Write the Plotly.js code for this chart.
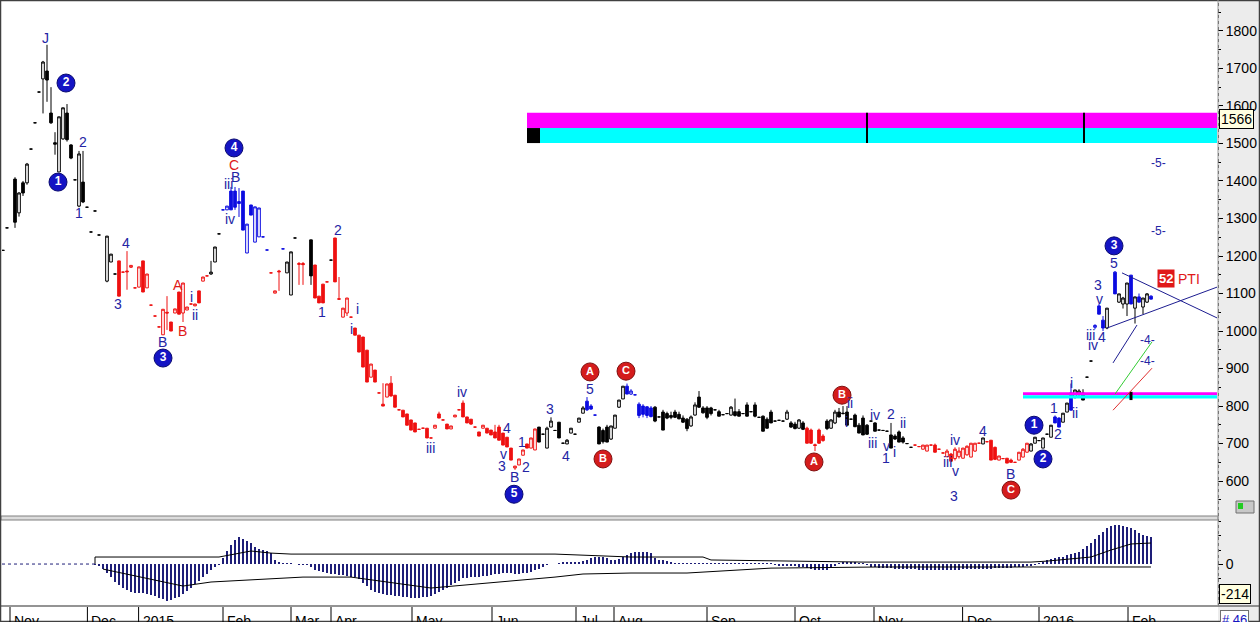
<!DOCTYPE html>
<html><head><meta charset="utf-8">
<script src="https://cdn.plot.ly/plotly-3.0.1.min.js"></script>
<style>html,body{margin:0;padding:0;background:#fff;overflow:hidden}#chart{width:1260px;height:622px}</style>
</head><body><div id="chart"></div>
<script>
// ---- price bars (one per trading day) ----
const barOpen = [1215,1275,null,1405,1315,1395,1395,1485,1555,1637,
 1672,1693,1581,1502,1424,1512,1581,1496,1403,1333,
 1397,1330,1264,1320,1256,null,1133,1184,1152,1187,
 1157,1160,1170,1115,1117,1187,1115,1069,1040,1011,
 990,1050,1024,1048,1104,1048,1056,1072,1067,1107,
 1133,1147,1152,1184,1259,1323,1323,1373,1373,1345,
 1373,1208,1336,1237,1251,1251,1216,1155,1101,1160,
 1219,1155,1096,1248,1180,1180,null,1243,1176,1093,
 1125,1131,1189,1248,1086,1037,1048,1037,1008,989,
 984,949,877,896,835,805,824,861,829,790,
 789,779,763,755,738,741,741,715,741,779,
 763,752,739,771,790,808,771,765,744,731,
 741,741,736,731,744,728,717,688,635,643,
 669,699,688,683,744,725,688,744,735,757,
 701,699,728,725,757,781,813,800,776,744,
 735,744,712,741,797,819,853,832,830,805,
 800,798,795,797,771,784,780,775,784,778,
 768,765,747,776,824,795,795,795,790,785,
 777,780,776,785,785,780,803,785,803,770,
 773,765,784,760,762,760,765,755,752,741,
 755,741,736,697,736,720,760,741,755,784,
 781,784,765,776,749,768,749,760,755,736,
 735,733,723,720,731,715,700,690,696,692,
 685,680,696,696,685,675,665,672,660,665,
 661,670,664,680,701,699,705,709,690,656,
 660,661,656,650,656,664,677,680,701,708,
 688,725,717,771,768,757,784,835,824,830,
 835,877,920,1010,1067,1029,1008,null,1157,1077,
 1072,1072,1149,1061,1091,1064,1077,1093];
const barHigh = [1215,1275,null,1410,1370,1400,1448,1485,1555,1637,
 1720,1763,1650,1530,1571,1595,1605,1498,1403,1480,
 1480,1330,1264,1320,1256,null,1253,1205,1152,1187,
 1157,1213,1175,1115,1171,1187,1152,1069,1040,1011,
 1058,1093,1024,1059,1104,1128,1064,1072,1072,1107,
 1144,1147,1187,1224,1259,1323,1333,1384,1384,1381,
 1373,1285,1336,1331,1328,1251,1216,1155,1107,1163,
 1219,1184,1211,1248,1184,1184,null,1243,1176,1093,
 1125,1131,1189,1248,1144,1061,1088,1037,1008,989,
 984,949,912,896,835,861,859,880,829,790,
 789,779,763,755,738,741,741,715,749,785,
 763,752,747,776,790,815,771,765,744,731,
 749,741,736,750,750,728,717,688,640,659,
 683,699,715,739,744,725,745,770,735,757,
 701,712,741,725,768,800,824,805,776,746,
 740,750,747,776,816,853,860,845,830,810,
 805,800,800,800,771,790,785,785,790,785,
 775,768,775,810,840,800,800,798,790,790,
 777,780,800,820,792,780,810,785,810,770,
 775,770,790,760,762,760,790,760,758,765,
 760,745,740,700,740,725,765,765,790,795,
 800,800,765,780,755,775,752,760,757,736,
 735,733,755,725,735,720,700,690,696,692,
 696,696,696,700,685,675,685,675,690,690,
 688,695,701,701,701,715,705,709,692,667,
 660,661,660,650,677,688,701,701,717,708,
 715,725,749,775,770,781,808,860,843,845,
 845,877,920,1018,1072,1040,1061,null,1160,1099,
 1091,1128,1149,1091,1100,1088,1101,1095];
const barLow = [1215,1275,null,1275,1305,1360,1390,1485,1555,1637,
 1580,1611,1552,1470,1424,1510,1505,1458,1403,1330,
 1341,1330,1264,1320,1256,null,1130,1184,1152,1093,
 1157,1110,1168,1115,1117,1104,1115,1069,1040,1011,
 990,1003,1000,1048,1045,1024,1056,1072,1067,1075,
 1133,1147,1150,1184,1259,1323,1323,1323,1323,1304,
 1269,1208,1309,1237,1251,1251,1216,1155,1101,1107,
 1219,1155,1096,1248,1123,1123,null,1123,1088,1075,
 1075,1131,1189,1131,1083,1037,1040,1037,989,944,
 904,864,877,864,835,800,824,825,797,790,
 771,749,736,731,738,741,715,715,741,768,
 763,739,739,771,790,771,755,750,744,720,
 741,728,723,715,709,696,691,656,630,643,
 669,688,688,683,704,725,688,744,735,715,
 701,699,728,725,757,781,787,790,776,699,
 700,704,710,741,795,819,832,830,830,768,
 770,768,770,757,771,736,765,765,768,765,
 755,733,745,775,795,780,765,775,790,773,
 777,780,775,772,773,780,773,785,770,770,
 733,740,755,760,762,760,763,742,738,740,
 736,701,700,680,700,705,736,740,752,770,
 778,749,765,744,728,723,723,760,733,736,
 735,733,688,710,704,700,700,690,696,692,
 685,680,696,677,685,675,665,653,655,660,
 661,668,664,678,701,699,705,656,656,656,
 660,648,650,650,656,664,677,680,701,708,
 688,725,717,755,744,757,784,789,820,828,
 816,877,920,1005,1045,1000,1005,null,1099,1075,
 1060,1040,1072,1020,1077,1045,1075,1085];
const barClose = [1215,1275,null,1290,1368,1368,1445,1485,1555,1637,
 1717,1669,1555,1498,1571,1595,1510,1461,1403,1472,
 1344,1330,1264,1320,1256,null,1253,1205,1152,1093,
 1157,1158,1175,1115,1171,1104,1152,1069,1040,1011,
 1058,1048,1000,1059,1045,1128,1064,1072,1072,1075,
 1144,1147,1157,1224,1259,1323,1333,1323,1330,1340,
 1269,1285,1309,1331,1328,1251,1216,1155,1107,1158,
 1219,1184,1211,1248,1178,1177,null,1147,1088,1075,
 1075,1131,1189,1131,1085,1061,1088,1037,989,944,
 904,864,912,864,835,800,859,827,797,790,
 771,749,736,731,738,741,715,715,749,768,
 763,739,747,776,790,771,755,752,744,720,
 749,728,723,715,709,696,691,656,640,659,
 683,688,715,739,704,725,741,760,735,715,
 701,709,741,725,768,795,790,792,776,699,
 705,704,747,776,816,853,832,840,830,775,
 778,775,772,760,771,736,768,770,770,766,
 757,740,771,803,797,782,770,780,790,773,
 777,780,797,775,773,780,773,785,773,770,
 733,741,755,760,762,760,784,744,740,763,
 738,701,701,695,701,708,740,763,784,771,
 780,749,765,745,728,723,725,760,733,736,
 735,733,688,712,704,704,700,690,696,692,
 696,696,696,677,685,675,680,653,685,680,
 688,693,701,701,701,715,705,656,658,667,
 660,648,650,650,677,685,701,699,717,708,
 715,725,749,755,744,781,808,789,843,840,
 816,877,920,1015,1045,1008,1061,null,1099,1099,
 1088,1128,1072,1091,1077,1088,1099,1085];
// colour class of each bar: k = black/white, r = red, b = blue, n = none
const barGroup = ("kknkkkkkkk"+"kkkkkkkkkk"+"kkkkknkkkr"+"rrrrrrrrrr"+"rrrrrrrrrr"+
 "rrkkkbbbbb"+"bbbbbbbrrr"+"bkkkrrnkrr"+"rrkrrrrrrr"+"rrrrrrrrrr"+
 "rrrrrrrrrr"+"rrrrrrrrrr"+"rrrrrrrrrr"+"rrrrkkkkkk"+"kkkkkkbbbk"+
 "kkkkkkbbbb"+"bbbkkkkkkk"+"kkkkkkkkkk"+"kkkkkkkkkk"+"kkkkkkkkkk"+
 "krrrrrkkkk"+"kkkkkkkkkk"+"kkkkkkkkrr"+"rrrrrrrrrr"+"rrrrrkrrrr"+
 "rrrrrrrkkk"+"kkkbbkkbkk"+"kkkbbbknbk"+"kkbkbkkb").split('');

// ---- oscillator (lower panel) ----
const oscHist = [null,null,null,null,null,null,null,null,null,null,
 null,null,null,null,null,null,null,null,null,null,
 null,null,null,-5,-14,-35,-64,-95,-125,-150,
 -170,-185,-200,-203,-205,-207,-212,-220,-228,-240,
 -252,-262,-255,-245,-235,-215,-192,-171,-145,-118,
 -93,-68,-43,-22,-7,43,90,135,171,192,
 180,164,150,125,110,100,90,80,29,14,
 7,5,7,3,-5,-7,-10,-20,-43,-50,
 -57,-64,-68,-72,-75,-78,-85,-90,-93,-110,
 -135,-160,-185,-200,-208,-215,-221,-224,-226,-228,
 -232,-236,-240,-242,-240,-238,-235,-225,-212,-200,
 -185,-168,-150,-135,-118,-100,-97,-95,-94,-93,
 -88,-83,-78,-74,-70,-67,-64,-66,-69,-71,
 -66,-62,-57,-45,-33,-21,-10,-3,0,7,
 14,12,14,15,14,20,29,40,50,52,
 50,40,29,32,36,50,64,80,86,88,
 86,84,80,40,32,29,25,14,7,8,
 6,9,7,5,8,7,6,9,8,7,
 10,6,7,8,5,7,9,6,8,7,
 5,6,4,-10,-12,-14,-15,-14,-16,-18,
 -20,-30,-38,-43,-45,-43,-40,-30,-15,10,
 14,16,14,12,8,4,-10,-18,-22,-25,
 -28,-30,-30,-32,-33,-35,-36,-38,-38,-40,
 -40,-41,-42,-43,-43,-42,-41,-40,-40,-39,
 -38,-38,-36,-35,-34,-33,-33,-32,-30,-30,
 -28,-27,-25,-24,-22,-20,-16,-12,-5,4,
 14,29,36,43,47,50,64,75,80,86,
 107,128,150,180,207,232,257,268,278,275,
 271,265,257,240,221,210,200,195];
const upperLineIdx = [23,23,54,62,67,72,138,149,157,175,177,215,257,261,267,272,277,282,287];
const upperLineVal = [0,50,50,93,78,71,71,57,50,50,29,14,14,21,36,50,100,143,150];
const lowerLineIdx = [25,45,52,75,87,107,138,145,157,171,192,219,287];
const lowerLineVal = [-36,-157,-128,-93,-93,-171,-93,-71,-64,-64,-29,-21,-21];

// ---- axis labels ----
const priceTicks = [600,700,800,900,1000,1100,1200,1300,1400,1500,1600,1700,1800];
const monthText = ['Nov','Dec','2015','Feb','Mar','Apr','May','Jun','Jul','Aug','Sep','Oct','Nov','Dec','2016','Feb'];
const monthPos = [1.75,21.1,33.9,55,72,82,102.25,122.25,143.25,152.75,176,198,217.75,239.9,259,281.25];

// ---- wave labels [text, bar position, price] ----
const navyLabels = [['J',10.5,1781],['2',20,1504],['1',19,1315],['4',30.75,1235],['3',28.75,1072],['i',47,1091],['ii',48,1043],['B',39.75,971],['B',58,1411],['iii',56.25,1392],['iv',56.75,1299],['2',83.75,1269],['1',79.75,1051],['i',88.5,1059],['i',87,1005],['iii',106.75,688],['iv',114.75,837],['4',126,741],['v',125,672],['3',124.75,640],['B',127.75,611],['2',130.75,637],['1',129.75,704],['3',136.75,792],['4',140.75,667],['5',146.75,845],['ii',211.75,808],['i',210.75,757],['iv',218,776],['2',222,779],['ii',225,755],['iii',217.25,701],['v',220.75,693],['1',220.75,661],['i',222.75,677],['iv',238,709],['4',245,733],['iii',236,651],['v',238,627],['3',237.75,560],['B',251.75,619],['1',262.75,795],['2',263.75,725],['i',267,861],['ii',268,781],['iii',271.75,989],['iv',272.5,963],['4',274.75,984],['v',274,1085],['3',273.75,1123],['5',277.75,1181]];
const redLabels = [['A',43.75,1123],['B',44.75,1000],['C',57.75,1443]];
const targetLabels = [['-5-',288.75,1448],['-5-',288.75,1267],['-4-',286,976],['-4-',286,920]];
const blueCircleText = ['2','1','3','4','5','1','2','3'];
const blueCircleIdx = [15.75,13.75,40,57.75,127.75,257.75,260,277.75];
const blueCirclePrice = [1661,1397,928,1488,565,749,659,1227];
const redCircleText = ['A','B','C','A','B','C'];
const redCircleIdx = [146.75,150,155.75,202.75,209.75,252];
const redCirclePrice = [891,659,893,651,829,576];

// ---- build ----
const idx = barOpen.map((_, i) => i);
const groupColor = {k:'#000000', r:'#ee1111', b:'#0c0ce0'};
function candle(g){
  const pick = a => a.map((v,i) => barGroup[i] === g ? v : null);
  return {type:'candlestick', x:idx, open:pick(barOpen), high:pick(barHigh), low:pick(barLow), close:pick(barClose),
    increasing:{line:{color:groupColor[g], width:1}, fillcolor:'#ffffff'},
    decreasing:{line:{color:groupColor[g], width:1}, fillcolor:groupColor[g]},
    whiskerwidth:0, hoverinfo:'skip', showlegend:false, xaxis:'x', yaxis:'y'};
}
const navy = '#2424a4';
const traces = [candle('k'), candle('r'), candle('b'),
  {type:'bar', x:idx, y:oscHist, width:0.3, marker:{color:'#1e1e78', line:{width:0}}, xaxis:'x', yaxis:'y2', hoverinfo:'skip'},
  {type:'scatter', mode:'lines', x:upperLineIdx, y:upperLineVal, line:{color:'#000', width:1}, xaxis:'x', yaxis:'y2', hoverinfo:'skip'},
  {type:'scatter', mode:'lines', x:lowerLineIdx, y:lowerLineVal, line:{color:'#000', width:1}, xaxis:'x', yaxis:'y2', hoverinfo:'skip'},
  {type:'scatter', mode:'markers+text', x:blueCircleIdx, y:blueCirclePrice, text:blueCircleText.map(t=>'<b>'+t+'</b>'),
   textposition:'middle center', textfont:{color:'#fff', size:12, family:'Liberation Sans'},
   marker:{size:18, color:'#1414c4', line:{color:'#0a0a70', width:1}}, cliponaxis:false, hoverinfo:'skip', xaxis:'x', yaxis:'y'},
  {type:'scatter', mode:'markers+text', x:redCircleIdx, y:redCirclePrice, text:redCircleText.map(t=>'<b>'+t+'</b>'),
   textposition:'middle center', textfont:{color:'#fff', size:11, family:'Liberation Sans'},
   marker:{size:18, color:'#d41c1c', line:{color:'#801010', width:1}}, cliponaxis:false, hoverinfo:'skip', xaxis:'x', yaxis:'y'}
];

const py = y => (605 - y) / 603;       // page pixel row -> paper fraction
const px = x => (x - 2) / 1215;        // page pixel column -> paper fraction
const shapes = [
  {type:'rect', xref:'paper', yref:'paper', x0:px(1218), x1:px(1262), y0:py(624), y1:py(-2), fillcolor:'#ececec', line:{width:0}, layer:'below'},
  {type:'line', xref:'paper', yref:'paper', x0:px(1218.5), x1:px(1218.5), y0:py(606), y1:py(0), line:{color:'#555', width:1, dash:'dot'}},
  {type:'rect', xref:'paper', yref:'paper', x0:px(1), x1:px(1218), y0:py(520), y1:py(516), fillcolor:'#dcdcdc', line:{color:'#808080', width:1}},
  {type:'line', xref:'paper', yref:'paper', x0:px(0), x1:px(1262), y0:py(606), y1:py(606), line:{color:'#707070', width:1.5}},
  {type:'rect', xref:'paper', yref:'paper', x0:px(0.5), x1:px(1259.5), y0:py(621.5), y1:py(0.5), line:{color:'#404040', width:1.5}},
  {type:'line', xref:'paper', yref:'paper', x0:px(1218), x1:px(1218), y0:py(606), y1:py(0), line:{color:'#9a9a9a', width:1}},
  // resistance bands
  {type:'rect', xref:'x', yref:'y', x0:131, x1:303.5, y0:1541, y1:1582, fillcolor:'#ff00ff', line:{width:0}},
  {type:'rect', xref:'x', yref:'y', x0:131, x1:303.5, y0:1501, y1:1541, fillcolor:'#00ffff', line:{width:0}},
  {type:'rect', xref:'x', yref:'y', x0:131, x1:134.25, y0:1501, y1:1541, fillcolor:'#000', line:{width:0}},
  {type:'line', xref:'x', yref:'y', x0:216, x1:216, y0:1501, y1:1582, line:{color:'#000', width:2}},
  {type:'line', xref:'x', yref:'y', x0:270.25, x1:270.25, y0:1501, y1:1582, line:{color:'#000', width:2}},
  {type:'rect', xref:'x', yref:'y', x0:255, x1:303.5, y0:829, y1:837, fillcolor:'#ff00ff', line:{width:0}},
  {type:'rect', xref:'x', yref:'y', x0:255, x1:303.5, y0:820, y1:829, fillcolor:'#00ffff', line:{width:0}},
  {type:'line', xref:'x', yref:'y', x0:282, x1:282, y0:816, y1:838, line:{color:'#000', width:3}},
  // triangle and projection lines
  {type:'line', xref:'x', yref:'y', x0:279.75, y0:1155, x1:303.5, y1:1035, line:{color:'#1c1c90', width:1}},
  {type:'line', xref:'x', yref:'y', x0:276, y0:1008, x1:303.5, y1:1117, line:{color:'#1c1c90', width:1}},
  {type:'line', xref:'x', yref:'y', x0:277.5, y0:915, x1:283.5, y1:1016, line:{color:'#1c1c90', width:1}},
  {type:'line', xref:'x', yref:'y', x0:278, y0:832, x1:287.25, y1:971, line:{color:'#33cc33', width:1}},
  {type:'line', xref:'x', yref:'y', x0:277.5, y0:789, x1:287.25, y1:901, line:{color:'#e03030', width:1}},
  // oscillator zero (dotted before the histogram starts)
  {type:'line', xref:'x', yref:'y2', x0:-0.25, x1:23, y0:0, y1:0, line:{color:'#1e1e78', width:1, dash:'dot'}},
  // little icon bottom-right of main panel
  {type:'rect', xref:'paper', yref:'paper', x0:px(1236), x1:px(1254), y0:py(513), y1:py(501), fillcolor:'#c8c8c8', line:{color:'#707070', width:1}},
  {type:'rect', xref:'paper', yref:'paper', x0:px(1238), x1:px(1243), y0:py(509), y1:py(503), fillcolor:'#22cc22', line:{width:0}}
];
monthPos.forEach(p => shapes.push({type:'line', xref:'x', yref:'paper', x0:p, x1:p, y0:py(607), y1:py(624), line:{color:'#000', width:1}}));

const lblFont = {family:'Liberation Sans, Arial', size:14, color:navy};
const annotations = [];
navyLabels.forEach(l => annotations.push({x:l[1], y:l[2], xref:'x', yref:'y', text:l[0], showarrow:false, font:lblFont}));
redLabels.forEach(l => annotations.push({x:l[1], y:l[2], xref:'x', yref:'y', text:l[0], showarrow:false, font:{family:'Liberation Sans, Arial', size:14, color:'#e01818'}}));
targetLabels.forEach(l => annotations.push({x:l[1], y:l[2], xref:'x', yref:'y', text:l[0], showarrow:false, font:{family:'Liberation Sans, Arial', size:12, color:navy}}));
monthText.forEach((t,i) => annotations.push({x:monthPos[i], y:py(611), xref:'x', yref:'paper', text:t, showarrow:false, xanchor:'left', yanchor:'top', xshift:2, font:{family:'Liberation Sans, Arial', size:14, color:'#000'}}));
annotations.push({x:290.75, y:1139, xref:'x', yref:'y', text:'<b>52</b>', showarrow:false, bgcolor:'#e01818', borderpad:1, font:{family:'Liberation Sans, Arial', size:13, color:'#fff'}});
annotations.push({x:293.2, y:1139, xref:'x', yref:'y', text:'PTI', showarrow:false, xanchor:'left', font:{family:'Liberation Sans, Arial', size:14, color:'#e01818'}});
annotations.push({x:px(1219), y:1566, xref:'paper', yref:'y', text:'1566', showarrow:false, xanchor:'left', bgcolor:'#ffffe0', bordercolor:'#000', borderwidth:1, borderpad:1, font:{family:'Liberation Sans Narrow, Liberation Sans, Arial', size:14, color:'#000'}});
annotations.push({x:px(1219), y:-214, xref:'paper', yref:'y2', text:'-214', showarrow:false, xanchor:'left', bgcolor:'#ffffe0', bordercolor:'#000', borderwidth:1, borderpad:1, font:{family:'Liberation Sans Narrow, Liberation Sans, Arial', size:14, color:'#000'}});
annotations.push({x:px(1220), y:py(610), xref:'paper', yref:'paper', text:'# 46', showarrow:false, xanchor:'left', yanchor:'top', bgcolor:'#ffffff', bordercolor:'#707070', borderwidth:1, borderpad:1, font:{family:'Liberation Sans, Arial', size:13, color:'#1515c0'}});

const axFont = {family:'Liberation Sans Narrow, Liberation Sans, Arial', size:14, color:'#000'};
const layout = {
  width:1260, height:622, margin:{l:2, r:43, t:2, b:17},
  paper_bgcolor:'#ffffff', plot_bgcolor:'#ffffff', showlegend:false, boxgap:0.05, bargap:0,
  xaxis:{range:[-0.25,303.5], showticklabels:false, showgrid:false, zeroline:false, ticks:'', showline:false, rangeslider:{visible:false}, anchor:'y2', fixedrange:true},
  yaxis:{domain:[py(516),1], range:[507,1877], side:'right', tickmode:'array', tickvals:priceTicks, ticks:'outside', ticklen:5, tickcolor:'#000',
    minor:{ticks:'outside', ticklen:3, tickcolor:'#000', tickmode:'linear', tick0:0, dtick:50},
    showgrid:false, zeroline:false, showline:false, tickfont:axFont, fixedrange:true},
  yaxis2:{domain:[0,py(520)], range:[-292,314], side:'right', tickmode:'array', tickvals:[0], ticks:'outside', ticklen:5, tickcolor:'#000',
    minor:{ticks:'outside', ticklen:3, tickcolor:'#000', tickmode:'linear', tick0:0, dtick:100},
    showgrid:false, zeroline:false, showline:false, tickfont:axFont, fixedrange:true},
  shapes:shapes, annotations:annotations
};
Plotly.newPlot('chart', traces, layout, {staticPlot:true, displayModeBar:false});
</script>
</body></html>
